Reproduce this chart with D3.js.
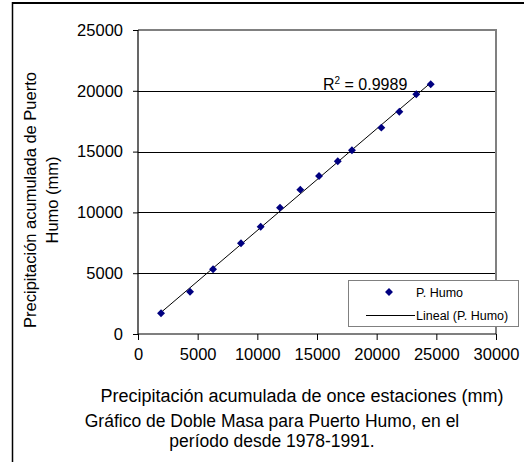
<!DOCTYPE html>
<html><head><meta charset="utf-8">
<script src="https://cdn.jsdelivr.net/npm/d3@7"></script>
<style>body{margin:0;background:#fff}svg{display:block;font-family:Arial,"Liberation Sans",sans-serif}</style>
</head><body><svg id="c" width="524" height="462"></svg>
<script>
const xValues = [1930, 4360, 6290, 8630, 10280, 11900, 13600, 15170, 16740, 17930, 20390, 21900, 23320, 24530];
const yValues = [1700, 3480, 5320, 7460, 8820, 10390, 11870, 12990, 14200, 15110, 16970, 18280, 19710, 20540];
const xTicks = [0, 5000, 10000, 15000, 20000, 25000, 30000];
const yTicks = [0, 5000, 10000, 15000, 20000, 25000];
const seriesName = "P. Humo";
const trendName = "Lineal (P. Humo)";
const r2Label = "0.9989";
const xTitle = "Precipitación acumulada de once estaciones (mm)";
const yTitle = ["Precipitación acumulada de Puerto", "Humo (mm)"];
const caption = ["Gráfico de Doble Masa para Puerto Humo, en el", "período desde 1978-1991."];

const svg = d3.select("#c");
const L = 138, R = 496, T = 30, B = 334;
const x = d3.scaleLinear().domain([0, 30000]).range([L, R]);
const y = d3.scaleLinear().domain([0, 25000]).range([B, T]);

// outer frame
svg.append("line").attr("x1", 12).attr("x2", 524).attr("y1", 3).attr("y2", 3).attr("stroke", "#000").attr("stroke-width", 2);
svg.append("line").attr("x1", 12.5).attr("x2", 12.5).attr("y1", 2).attr("y2", 462).attr("stroke", "#000").attr("stroke-width", 1.5);

// gridlines
svg.append("g").selectAll("line").data(yTicks.filter(d => d > 0 && d < 25000)).join("line")
  .attr("x1", L).attr("x2", R).attr("y1", d => Math.round(y(d)) + 0.5).attr("y2", d => Math.round(y(d)) + 0.5)
  .attr("stroke", "#000").attr("stroke-width", 1);
// plot border top/right gray
svg.append("path").attr("d", `M${L},${T}H${R}V${B}`).attr("fill", "none").attr("stroke", "#808080").attr("stroke-width", 2);

// axes
const fs = 16.5;
const gy = svg.append("g").attr("transform", `translate(${L},0)`)
  .call(d3.axisLeft(y).tickValues(yTicks).tickSize(5).tickPadding(10).tickFormat(d3.format("d")));
const gx = svg.append("g").attr("transform", `translate(0,${B})`)
  .call(d3.axisBottom(x).tickValues(xTicks).tickSize(6).tickPadding(8).tickFormat(d3.format("d")));
[gx, gy].forEach(g => {
  g.select(".domain").attr("stroke", "#000").attr("stroke-width", 1.2);
  g.selectAll(".tick line").attr("stroke", "#000");
  g.selectAll(".tick text").attr("font-size", fs).attr("font-family", "Arial, 'Liberation Sans', sans-serif").attr("fill", "#000");
});
gx.select(".domain").attr("d", `M${L},0H${R}`);
gy.select(".domain").attr("d", `M0,${B}V${T}`);

// trendline (least squares from data)
const n = xValues.length;
const mx = d3.mean(xValues), my = d3.mean(yValues);
let sxy = 0, sxx = 0;
for (let i = 0; i < n; i++) { sxy += (xValues[i] - mx) * (yValues[i] - my); sxx += (xValues[i] - mx) ** 2; }
const slope = sxy / sxx, icpt = my - slope * mx;
const x0 = d3.min(xValues), x1 = d3.max(xValues);
svg.append("line").attr("x1", x(x0)).attr("y1", y(icpt + slope * x0)).attr("x2", x(x1)).attr("y2", y(icpt + slope * x1))
  .attr("stroke", "#000").attr("stroke-width", 1);

// points
const diamond = d3.symbol().type(d3.symbolDiamond2).size(40);
svg.append("g").selectAll("path").data(xValues.map((v, i) => [v, yValues[i]])).join("path")
  .attr("d", diamond).attr("transform", d => `translate(${x(d[0])},${y(d[1])})`).attr("fill", "#000080");

// R2 label
const rt = svg.append("text").attr("x", 323).attr("y", 90).attr("font-size", 16).attr("fill", "#000");
rt.append("tspan").text("R");
rt.append("tspan").attr("dy", -6).attr("font-size", 10).text("2");
rt.append("tspan").attr("dy", 6).text(" = " + r2Label);

// legend
const lg = svg.append("g");
lg.append("rect").attr("x", 348.5).attr("y", 280.5).attr("width", 170).attr("height", 46).attr("fill", "#fff").attr("stroke", "#808080");
lg.append("path").attr("d", diamond).attr("transform", "translate(389,292)").attr("fill", "#000080");
lg.append("text").attr("x", 416).attr("y", 297).attr("font-size", 12.5).text(seriesName);
lg.append("line").attr("x1", 366).attr("x2", 415).attr("y1", 315.5).attr("y2", 315.5).attr("stroke", "#000");
lg.append("text").attr("x", 416).attr("y", 320).attr("font-size", 12.5).text(trendName);

// titles
svg.append("text").attr("x", 302).attr("y", 402).attr("text-anchor", "middle").attr("font-size", 18).text(xTitle);
const yt = svg.append("text").attr("transform", "translate(36,200) rotate(-90)").attr("text-anchor", "middle").attr("font-size", 16.5);
yt.selectAll("tspan").data(yTitle).join("tspan").attr("x", 0).attr("dy", (d, i) => i ? 22 : 0).text(d => d);
svg.append("g").selectAll("text").data(caption).join("text")
  .attr("x", 272).attr("y", (d, i) => 427 + i * 20).attr("text-anchor", "middle").attr("font-size", 17.5).text(d => d);
</script></body></html>
